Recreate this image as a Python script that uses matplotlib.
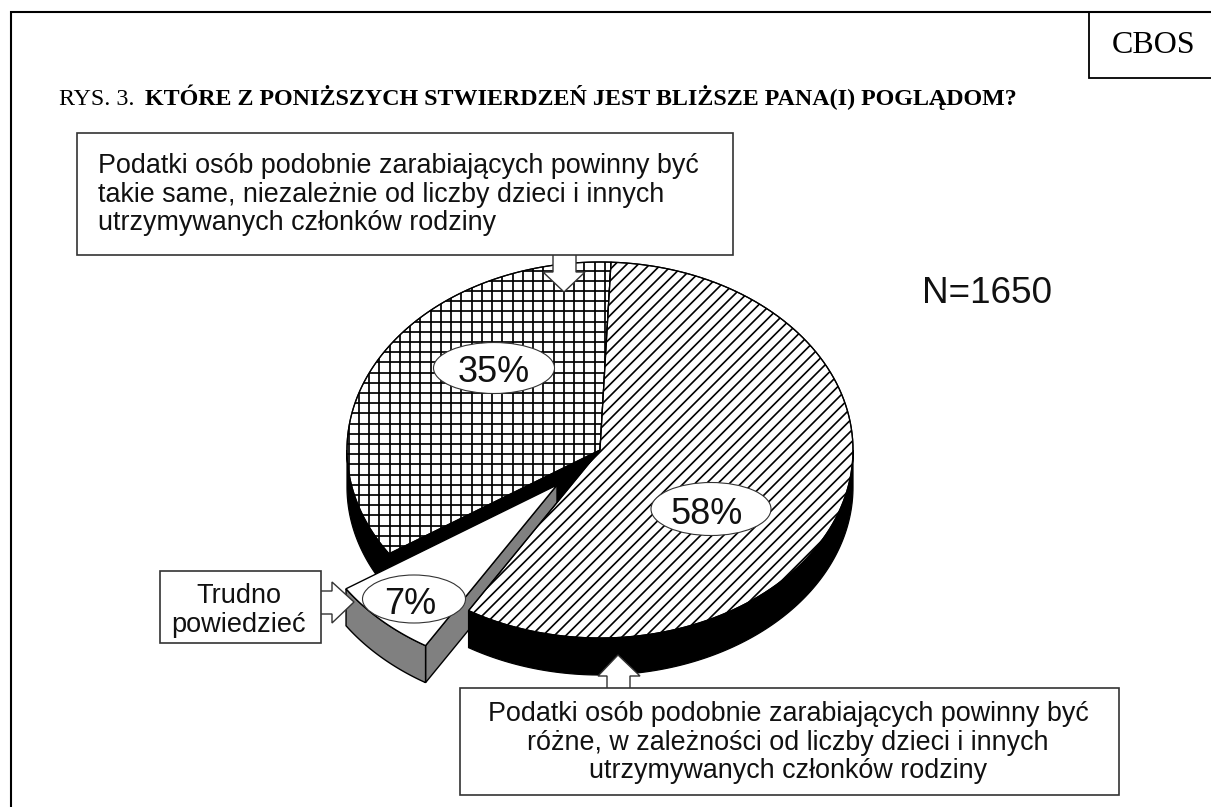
# Import necessary libraries
import numpy as np
import matplotlib
matplotlib.use('Agg')
import matplotlib.pyplot as plt
from matplotlib.patches import Polygon, Rectangle, Ellipse

# Chart data
labels = ['58%', '35%', '7%']
values = [58, 35, 7]
title_prefix = 'RYS. 3. '
title_main = 'KTÓRE Z PONIŻSZYCH STWIERDZEŃ JEST BLIŻSZE PANA(I) POGLĄDOM?'
source_label = 'CBOS'
sample_label = 'N=1650'
top_lines = ['Podatki osób podobnie zarabiających powinny być',
             'takie same, niezależnie od liczby dzieci i innych',
             'utrzymywanych członków rodziny']
bottom_lines = ['Podatki osób podobnie zarabiających powinny być',
                'różne, w zależności od liczby dzieci i innych',
                'utrzymywanych członków rodziny']
small_lines = ['Trudno', 'powiedzieć']

# Pie geometry in pixels
CX, CY = 600, 450
RX, RY = 253, 188
DEPTH = 37
START = 87.5
EXPLODE = (-43, 35)

fig = plt.figure(figsize=(12.11, 8.07), dpi=100)
ax = fig.add_axes([0, 0, 1, 1])
ax.set_xlim(0, 1211)
ax.set_ylim(807, 0)
ax.axis('off')

SANS = 'Liberation Sans'
SERIF = 'Liberation Serif'
DARK = '#333333'


# Function to get points of the rim between two angles
def rim(a1, a2, cx=CX, cy=CY, drop=0):
    t = np.radians(np.linspace(a1, a2, 120))
    return np.column_stack([cx + RX * np.cos(t), cy - RY * np.sin(t) + drop])


# Function to get the top face of a slice
def top_face(a1, a2, cx=CX, cy=CY):
    return np.vstack([[[cx, cy]], rim(a1, a2, cx, cy)])


# Function to draw a line pattern clipped to a face
def pattern(patch, xs_ys, lw=1.1):
    for (x, y) in xs_ys:
        line, = ax.plot(x, y, color='black', lw=lw, solid_capstyle='butt', zorder=patch.get_zorder())
        line.set_clip_path(patch)


def draw_face(points, z, face='white', edge='black', lw=0.9):
    patch = Polygon(points, closed=True, facecolor=face, edgecolor=edge, lw=lw, zorder=z)
    ax.add_patch(patch)
    return patch


# Angles of the slices, clockwise from the start angle
big_end = START - 360 * values[0] / sum(values)
mid_end = START + 360 * values[1] / sum(values)
small_end = mid_end + 360 * values[2] / sum(values)

# 35% slice: black side, then the crossed face
cut_end = rim(mid_end, mid_end)[0]
draw_face(np.vstack([rim(180, mid_end), rim(mid_end, 180, drop=DEPTH)]), 1, 'black')
draw_face([[CX, CY], cut_end, cut_end + [0, DEPTH], [CX, CY + DEPTH]], 1, 'black')
mid_face = draw_face(top_face(START, mid_end), 2)
grid_lines = [([x, x], [240, 600]) for x in np.arange(348.5, 620, 10.25)]
grid_lines += [([330, 620], [y, y]) for y in np.arange(270.7, 600, 10.2)]
pattern(mid_face, grid_lines, lw=1.25)
draw_face(top_face(START, mid_end), 2.1, 'none')

# 7% slice: grey sides, then the white face
sx, sy = CX + EXPLODE[0], CY + EXPLODE[1]
rim_small = rim(mid_end, small_end, sx, sy)
rim_small_low = rim(small_end, mid_end, sx, sy, DEPTH)
draw_face([[sx, sy], rim_small[-1], rim_small[-1] + [0, DEPTH], [sx, sy + DEPTH]], 3, '#808080', lw=1.0)
draw_face(np.vstack([rim_small, rim_small_low]), 3, '#808080', lw=1.0)
draw_face(top_face(mid_end, small_end, sx, sy), 3.5, lw=1.0)

# 58% slice: black side, then the striped face
draw_face(np.vstack([rim(big_end, 0), rim(0, big_end, drop=DEPTH)]), 4, 'black')
big_face = draw_face(top_face(START, big_end), 5)
stripes = [([x, x - 500], [200, 700]) for x in np.arange(300, 1500, 11.5)]
pattern(big_face, stripes, lw=1.2)
draw_face(top_face(START, big_end), 5.1, 'none')

# Value labels on white ellipses
label_spots = [(711, 509, 120, 53, -4), (494, 368, 121, 51, 0), (414, 599, 103, 48, -4)]
for text, (x, y, w, h, shift) in zip(labels, label_spots):
    ax.add_patch(Ellipse((x, y), w, h, facecolor='white', edgecolor=DARK, lw=0.8, zorder=6))
    ax.text(x + shift, y + 14.5, text, family=SANS, fontsize=26, ha='center', va='baseline', color='#111111', zorder=7)


# Function to draw a box with a block arrow
def draw_callout(box, arrow):
    x, y, w, h = box
    ax.add_patch(Polygon(arrow, closed=False, facecolor='white', edgecolor=DARK, lw=1.0, zorder=8))
    ax.add_patch(Rectangle((x, y), w, h, facecolor='white', edgecolor=DARK, lw=1.2, zorder=8.5))


draw_callout((77, 133, 656, 122),
             [[553, 255], [553, 272], [543, 272], [564, 292], [585, 272], [576, 272], [576, 255]])
draw_callout((460, 688, 659, 107),
             [[607, 688], [607, 676], [598, 676], [618, 655], [640, 676], [630, 676], [630, 688]])
draw_callout((160, 571, 161, 72),
             [[321, 591], [332, 591], [332, 582], [354, 602], [332, 623], [332, 614], [321, 614]])

# Texts inside the boxes
for line, y in zip(top_lines, [173, 202, 230]):
    ax.text(98.5, y, line, family=SANS, fontsize=19.4, ha='left', va='baseline', color='#111111', zorder=9)
for line, y in zip(bottom_lines, [721, 750, 778]):
    ax.text(788, y, line, family=SANS, fontsize=19.4, ha='center', va='baseline', color='#111111', zorder=9)
for line, y in zip(small_lines, [603, 632]):
    ax.text(238.5, y, line, family=SANS, fontsize=19.5, ha='center', va='baseline', color='#111111', zorder=9)

# N label
ax.text(987, 303, sample_label, family=SANS, fontsize=26.6, ha='center', va='baseline', color='#111111')

# Frame and CBOS box
ax.plot([10.5, 10.5, 1211], [807, 12, 12], color='black', lw=1.5, solid_joinstyle='miter')
ax.plot([1089, 1089, 1211], [12, 78, 78], color='black', lw=1.3, solid_joinstyle='miter')
ax.text(1154, 53, source_label, family=SERIF, fontsize=23, ha='center', va='baseline', color='black')

# Title
ax.text(59, 105, title_prefix, family=SERIF, fontsize=17.3, ha='left', va='baseline', color='black')
ax.text(145, 105, title_main, family=SERIF, fontsize=17.3, weight='bold', ha='left', va='baseline', color='black')

fig.savefig('out.png', dpi=100, facecolor='white')
